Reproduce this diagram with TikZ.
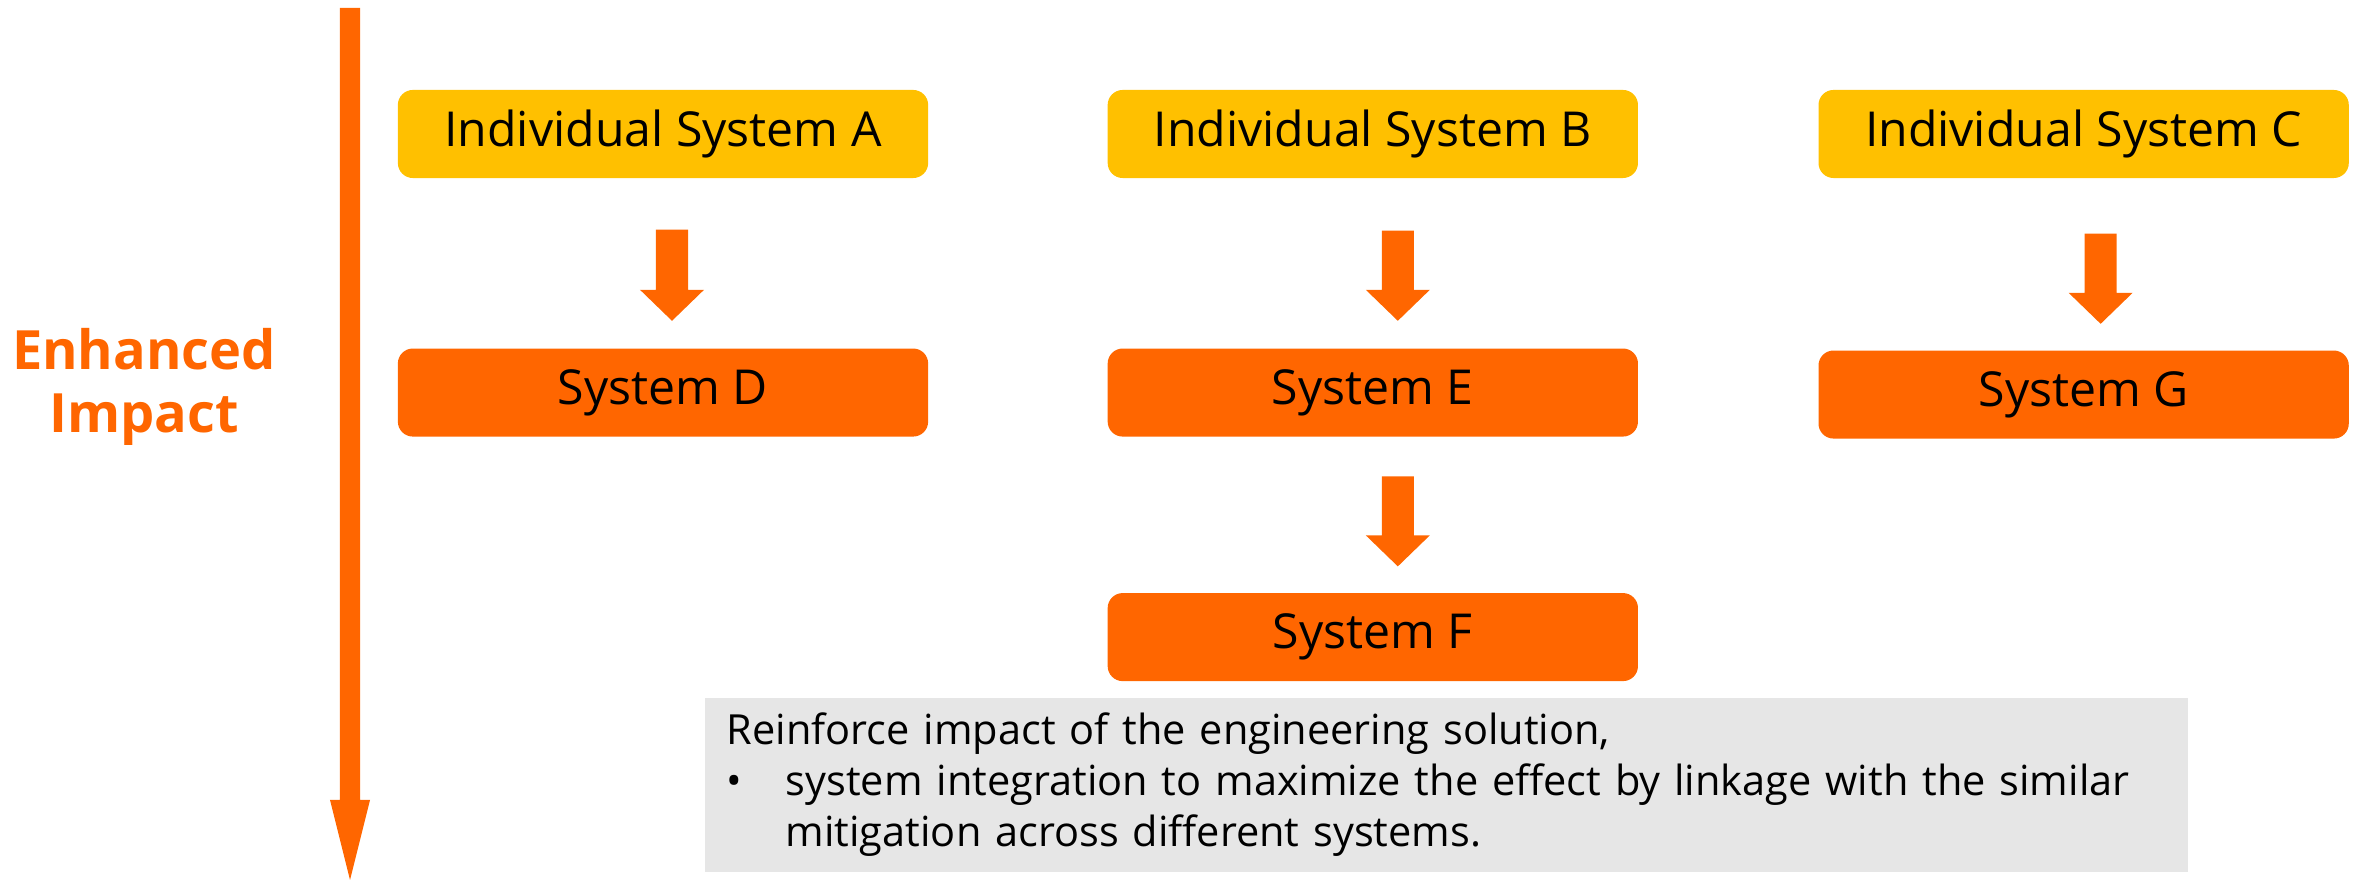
\documentclass[tikz,border=0pt]{standalone}
\usepackage{fontspec}
\setmainfont{Open Sans}
\usetikzlibrary{positioning,calc}

\definecolor{orangeC}{HTML}{FF6600}
\definecolor{yellowC}{HTML}{FFC000}
\definecolor{greyC}{HTML}{E6E6E6}

\tikzset{
	box/.style={rounded corners=0.15cm, minimum width=5.3cm, minimum height=0.88cm,
		inner sep=0pt, font=\fontsize{13.7}{17}\selectfont},
	indiv/.style={box, fill=yellowC},
	system/.style={box, fill=orangeC},
	note/.style={fill=greyC, minimum width=14.82cm, minimum height=1.74cm, text width=14.38cm,
		inner xsep=0.22cm, inner ysep=0pt, align=left, font=\fontsize{11.8}{14.6}\selectfont},
	fatarrow/.style n args={3}{fill=orangeC, to path={
		let \p1=(\tikztostart), \p2=(\tikztotarget) in
		(\x1-#1,\y1) -- (\x1+#1,\y1) -- (\x1+#1,\y2+#3) -- (\x1+#2,\y2+#3) -- (\x1,\y2)
		-- (\x1-#2,\y2+#3) -- (\x1-#1,\y2+#3) -- cycle}},
	linkarrow/.style={fatarrow={0.16cm}{0.32cm}{0.31cm}},
	impactarrow/.style={fatarrow={0.1cm}{0.2cm}{0.8cm}},
}

\begin{document}
\begin{tikzpicture}[x=0.01cm, y=-0.01cm, node distance=1.69cm]
		\useasboundingbox (0,0) rectangle (2354,880);

		\coordinate (ax1) at (350,8);
		\coordinate (ax2) at (350,880);
		\path[impactarrow] (ax1) to (ax2);
		\node (impact) [font=\bfseries\fontsize{15.4}{18.1}\selectfont, text=orangeC, align=center]
			at (144,387) {Enhanced\\Impact};

		\node (ia) [indiv] at (663,134)     {Individual System A};
		\node (ib) [indiv, right=1.78cm of ia] {Individual System B};
		\node (ic) [indiv, right=1.79cm of ib] {Individual System C};

		\node (sd) [system, below=of ia]        {System D};
		\node (se) [system, below=of ib]        {System E};
		\node (sg) [system, below=1.71cm of ic] {System G};
		\node (sf) [system, below=1.55cm of se] {System F};

		\path[linkarrow] ([shift={(9,51)}]ia.south)  to ([shift={(9,-27)}]sd.north);
		\path[linkarrow] ([shift={(25,52)}]ib.south) to ([shift={(25,-27)}]se.north);
		\path[linkarrow] ([shift={(25,39)}]se.south) to ([shift={(25,-26)}]sf.north);
		\path[linkarrow] ([shift={(17,55)}]ic.south) to ([shift={(17,-26)}]sg.north);

		\node (note) [note, anchor=north west] at (704,697) {Reinforce impact of the engineering solution,\\
			\makebox[0.59cm][l]{\textbullet}system integration to maximize the effect by linkage with the similar\\
			\hspace*{0.59cm}mitigation across different systems.};
	\end{tikzpicture}
\end{document}
